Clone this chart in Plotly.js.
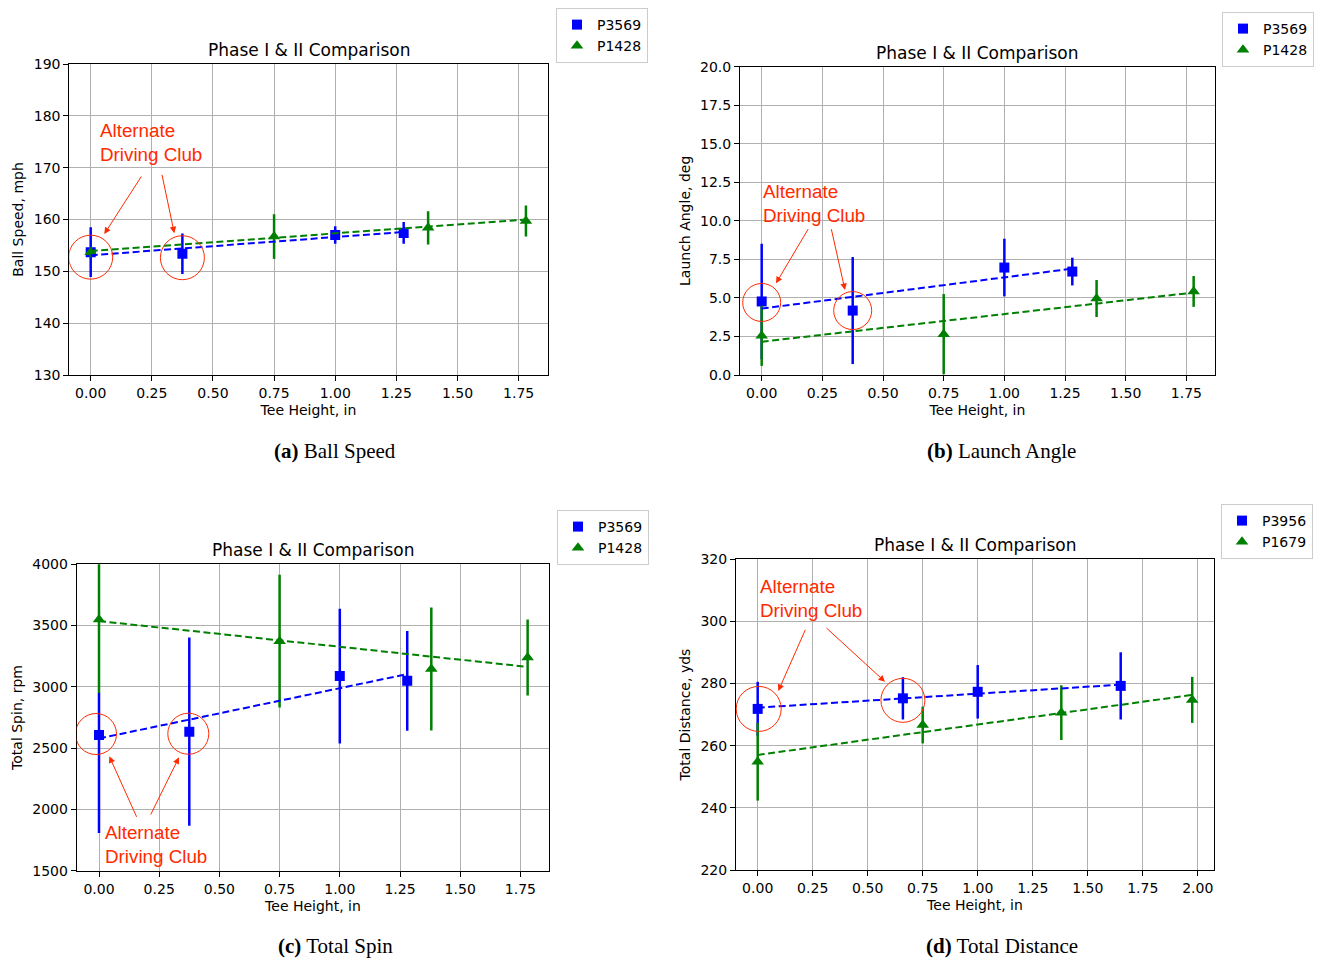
<!DOCTYPE html>
<html>
<head>
<meta charset="utf-8">
<script src="https://cdn.plot.ly/plotly-3.0.1.min.js"></script>
<style>html,body{margin:0;padding:0;background:#fff;}#chart{width:1325px;height:960px;}</style>
</head>
<body>
<div id="chart"></div>
<script>
// ---------- data ----------
// (a) Ball Speed
const speedTeeBlue = [0, 0.375, 1.0, 1.28];
const speedBlue = [153.7, 153.4, 157.0, 157.4];
const speedBlueErrUp = [4.8, 3.9, 1.7, 2.1];
const speedBlueErrDown = [4.8, 3.9, 1.7, 2.1];
const speedTeeGreen = [0, 0.75, 1.38, 1.78];
const speedGreen = [153.7, 156.7, 158.4, 159.7];
const speedGreenErr = [1.0, 4.3, 3.2, 3.0];
const speedFitBlue = [153.1, 157.6];
const speedFitGreen = [153.9, 160.0];

// (b) Launch Angle
const launchTeeBlue = [0, 0.375, 1.0, 1.28];
const launchBlue = [4.77, 4.18, 6.97, 6.71];
const launchBlueErrUp = [3.75, 3.47, 1.87, 0.9];
const launchBlueErrDown = [3.75, 3.47, 1.87, 0.9];
const launchTeeGreen = [0, 0.75, 1.38, 1.78];
const launchGreen = [2.54, 2.65, 4.96, 5.42];
const launchGreenErr = [1.95, 2.6, 1.2, 1.0];
const launchFitBlue = [4.31, 6.9];
const launchFitGreen = [2.16, 5.35];

// (c) Total Spin
const spinTeeBlue = [0, 0.375, 1.0, 1.28];
const spinBlue = [2607, 2634, 3088, 3049];
const spinBlueErrUp = [345, 768, 550, 407];
const spinBlueErrDown = [800, 768, 550, 407];
const spinTeeGreen = [0, 0.75, 1.38, 1.78];
const spinGreen = [3550, 3373, 3145, 3240];
const spinGreenErr = [600, 541, 502, 310];
const spinFitBlue = [2579, 3104];
const spinFitGreen = [3537, 3163];

// (d) Total Distance
const distTeeBlue = [0, 0.66, 1.0, 1.65];
const distBlue = [271.8, 275.2, 277.3, 279.2];
const distBlueErrUp = [8.7, 6.8, 8.6, 10.8];
const distBlueErrDown = [8.7, 6.8, 8.6, 10.8];
const distTeeGreen = [0, 0.75, 1.38, 1.975];
const distGreen = [254.8, 266.6, 270.6, 274.7];
const distGreenErr = [12.5, 5.9, 8.8, 7.4];
const distFitBlue = [272.2, 279.6];
const distFitGreen = [257.0, 276.3];

// labels
const seriesNamesABC = ["P3569", "P1428"];
const seriesNamesD = ["P3956", "P1679"];
const panelTitle = "Phase I & II Comparison";
const xLabel = "Tee Height, in";
const yLabels = ["Ball Speed, mph", "Launch Angle, deg", "Total Spin, rpm", "Total Distance, yds"];
const captions = ["<b>(a)</b> Ball Speed", "<b>(b)</b> Launch Angle", "<b>(c)</b> Total Spin", "<b>(d)</b> Total Distance"];
const noteText = "Alternate<br>Driving Club";

// ---------- styling / layout helpers ----------
const W = 1325, H = 960;
const px = x => x / W;
const py = y => 1 - y / H;
const BLUE = "#0000ff", GREEN = "#008000", RED = "#ff2a00";
const SANS = "DejaVu Sans, sans-serif";

function pointTrace(x, y, errUp, errDown, color, symbol, size, name, ax, legend) {
  return {
    type: "scatter", mode: "markers", x: x, y: y, name: name,
    xaxis: ax[0], yaxis: ax[1], legend: legend,
    marker: {color: color, symbol: symbol, size: size},
    error_y: {type: "data", symmetric: false, array: errUp, arrayminus: errDown,
              visible: true, color: color, thickness: 2.5, width: 0},
    cliponaxis: true
  };
}
function fitTrace(x, y, color, ax) {
  return {
    type: "scatter", mode: "lines", x: [x[0], x[x.length - 1]], y: y,
    xaxis: ax[0], yaxis: ax[1], showlegend: false, hoverinfo: "skip",
    line: {color: color, width: 2, dash: "7px,3.5px"}
  };
}

const panels = [
  {ax: ["x", "y"], leg: "legend", names: seriesNamesABC,
   bx: speedTeeBlue, by: speedBlue, beu: speedBlueErrUp, bed: speedBlueErrDown,
   gx: speedTeeGreen, gy: speedGreen, ge: speedGreenErr,
   fb: speedFitBlue, fg: speedFitGreen},
  {ax: ["x2", "y2"], leg: "legend2", names: seriesNamesABC,
   bx: launchTeeBlue, by: launchBlue, beu: launchBlueErrUp, bed: launchBlueErrDown,
   gx: launchTeeGreen, gy: launchGreen, ge: launchGreenErr,
   fb: launchFitBlue, fg: launchFitGreen},
  {ax: ["x3", "y3"], leg: "legend3", names: seriesNamesABC,
   bx: spinTeeBlue, by: spinBlue, beu: spinBlueErrUp, bed: spinBlueErrDown,
   gx: spinTeeGreen, gy: spinGreen, ge: spinGreenErr,
   fb: spinFitBlue, fg: spinFitGreen},
  {ax: ["x4", "y4"], leg: "legend4", names: seriesNamesD,
   bx: distTeeBlue, by: distBlue, beu: distBlueErrUp, bed: distBlueErrDown,
   gx: distTeeGreen, gy: distGreen, ge: distGreenErr,
   fb: distFitBlue, fg: distFitGreen}
];

const traces = [];
panels.forEach(p => {
  traces.push(pointTrace(p.bx, p.by, p.beu, p.bed, BLUE, "square", 10, p.names[0], p.ax, p.leg));
  traces.push(pointTrace(p.gx, p.gy, p.ge, p.ge, GREEN, "triangle-up", 11, p.names[1], p.ax, p.leg));
  traces.push(fitTrace(p.bx, p.fb, BLUE, p.ax));
  traces.push(fitTrace(p.gx, p.fg, GREEN, p.ax));
});

// pixel boxes of the four plot areas [left, right, top, bottom]
const boxes = [
  [69.3, 547.7, 64, 375],
  [740, 1215, 66.7, 375],
  [76.7, 549.3, 564.3, 870.7],
  [736, 1214, 559, 870]
];

function xaxisDef(i, range, tickvals) {
  const b = boxes[i];
  return {
    domain: [px(b[0]), px(b[1])], range: range, anchor: "y" + (i ? i + 1 : ""),
    tickvals: tickvals, tickformat: ".2f",
    showline: true, mirror: true, linecolor: "#000", linewidth: 1,
    ticks: "outside", ticklen: 5, tickcolor: "#000", tickwidth: 1,
    showgrid: true, gridcolor: "#b0b0b0", gridwidth: 1, zeroline: false,
    tickfont: {family: SANS, size: 14, color: "#000"},
    title: {text: xLabel, font: {family: SANS, size: 14, color: "#000"}, standoff: 5}
  };
}
function yaxisDef(i, range, dtick, fmt) {
  const b = boxes[i];
  return {
    domain: [py(b[3]), py(b[2])], range: range, anchor: "x" + (i ? i + 1 : ""),
    dtick: dtick, tick0: range[0], tickformat: fmt,
    showline: true, mirror: true, linecolor: "#000", linewidth: 1,
    ticks: "outside", ticklen: 5, tickcolor: "#000", tickwidth: 1,
    showgrid: true, gridcolor: "#b0b0b0", gridwidth: 1, zeroline: false,
    tickfont: {family: SANS, size: 14, color: "#000"},
    title: {text: yLabels[i], font: {family: SANS, size: 14, color: "#000"}, standoff: 6}
  };
}

const ticks175 = [0, 0.25, 0.5, 0.75, 1.0, 1.25, 1.5, 1.75];
const ticks200 = [0, 0.25, 0.5, 0.75, 1.0, 1.25, 1.5, 1.75, 2.0];

function legendDef(left, top) {
  return {
    x: px(left), y: py(top), xanchor: "left", yanchor: "top",
    bgcolor: "rgba(255,255,255,0.9)", bordercolor: "#cccccc", borderwidth: 1,
    font: {family: SANS, size: 14, color: "#000"}, tracegroupgap: 0,
    itemwidth: 30
  };
}

const annotations = [];
// panel titles and captions
boxes.forEach((b, i) => {
  annotations.push({
    xref: "paper", yref: "paper", x: px((b[0] + b[1]) / 2), y: py(b[2]),
    xanchor: "center", yanchor: "bottom", yshift: 2, showarrow: false,
    text: panelTitle, font: {family: SANS, size: 17, color: "#000"}
  });
});
const capPos = [[334.5, 451], [1001.5, 451], [335.5, 946], [1001.5, 946]];
capPos.forEach((c, i) => {
  annotations.push({
    xref: "paper", yref: "paper", x: px(c[0]), y: py(c[1]),
    xanchor: "center", yanchor: "middle", showarrow: false,
    text: captions[i], font: {family: "Liberation Serif, serif", size: 21, color: "#000"}
  });
});
// "Alternate Driving Club" notes: [left, centerY]
const notePos = [[98, 142], [761, 203.5], [103, 844], [758, 598]];
notePos.forEach(n => {
  annotations.push({
    xref: "paper", yref: "paper", x: px(n[0]), y: py(n[1]),
    xanchor: "left", yanchor: "middle", align: "left", showarrow: false,
    text: noteText, font: {family: "Liberation Sans, Arial, sans-serif", size: 18.8, color: RED}
  });
});
// arrows: [tailX, tailY, headX, headY] in pixels
const arrows = [
  [142.3, 175, 104.3, 234], [161.7, 173.3, 174.3, 233.3],
  [809, 227.7, 776, 283.3], [831, 227.7, 845, 290],
  [137.3, 818.3, 109.3, 756.3], [150, 816, 179, 757.3],
  [806, 628.3, 778.3, 691], [825, 626.7, 885, 681.7]
];
arrows.forEach(a => {
  annotations.push({
    xref: "paper", yref: "paper", x: px(a[2]), y: py(a[3]),
    ax: a[0] - a[2], ay: a[1] - a[3], text: "", showarrow: true,
    arrowhead: 2, arrowsize: 1.3, arrowwidth: 1, arrowcolor: RED, standoff: 0, startstandoff: 0
  });
});

// circles around the alternate-club points: [panel, pointIndex, dx, dy, r]
const circleSpec = [
  [0, 0, 0, -5, 22], [0, 1, 0, -4, 22],
  [1, 0, 0, -1, 19], [1, 1, 0, 0, 19],
  [2, 0, -3, 1, 20.5], [2, 1, -1, -2, 20.5],
  [3, 0, 1, 0, 22.5], [3, 1, 0, -2, 22]
];
const shapes = circleSpec.map(c => {
  const p = panels[c[0]];
  return {
    type: "circle", xref: p.ax[0], yref: p.ax[1],
    xsizemode: "pixel", ysizemode: "pixel",
    xanchor: p.bx[c[1]], yanchor: p.by[c[1]],
    x0: c[2] - c[4], x1: c[2] + c[4], y0: c[3] - c[4], y1: c[3] + c[4],
    line: {color: RED, width: 1}
  };
});

const layout = {
  width: W, height: H, margin: {l: 0, r: 0, t: 0, b: 0},
  paper_bgcolor: "#fff", plot_bgcolor: "#fff",
  showlegend: true,
  font: {family: SANS, color: "#000"},
  xaxis: xaxisDef(0, [-0.0875, 1.869], ticks175),
  yaxis: yaxisDef(0, [130, 190], 10, "d"),
  xaxis2: xaxisDef(1, [-0.0894, 1.868], ticks175),
  yaxis2: yaxisDef(1, [0, 20], 2.5, ".1f"),
  xaxis3: xaxisDef(2, [-0.0926, 1.87], ticks175),
  yaxis3: yaxisDef(2, [1500, 4000], 500, "d"),
  xaxis4: xaxisDef(3, [-0.0986, 2.074], ticks200),
  yaxis4: yaxisDef(3, [220, 320], 20, "d"),
  legend: legendDef(556, 8),
  legend2: legendDef(1222, 12),
  legend3: legendDef(557, 510),
  legend4: legendDef(1221, 504),
  annotations: annotations,
  shapes: shapes
};

Plotly.newPlot("chart", traces, layout, {displayModeBar: false, staticPlot: true});
</script>
</body>
</html>
